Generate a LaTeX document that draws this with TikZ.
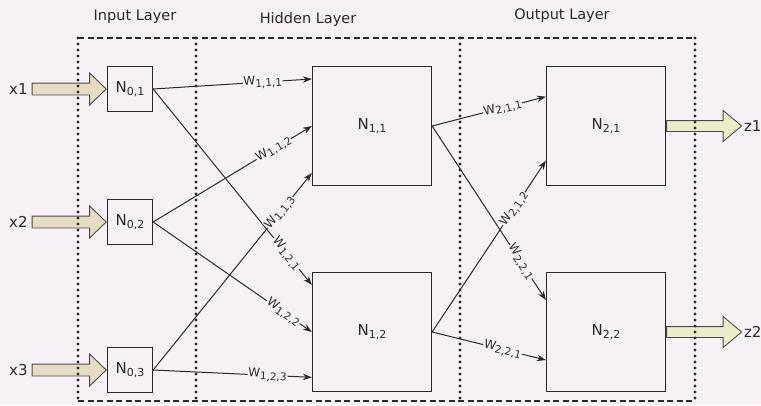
\documentclass[tikz,border=0pt]{standalone}
\usepackage{fontspec}
\setmainfont{DejaVu Sans}
\usetikzlibrary{arrows.meta,positioning,shapes.arrows}
\definecolor{paper}{HTML}{F7F1F6}
\definecolor{ink}{HTML}{2A2A2A}
\definecolor{inbeige}{HTML}{E6DCC4}
\definecolor{outlime}{HTML}{ECEDC8}
\newcommand{\wlab}[1]{{\fontsize{12}{13}\selectfont W\raisebox{-2.5pt}{\fontsize{10.5}{11}\selectfont #1}}}
\newcommand{\nlab}[1]{N\raisebox{-3.5pt}{\fontsize{11}{12}\selectfont #1}}

\begin{document}
\begin{tikzpicture}[x=1pt,y=-1pt]
\tikzset{
  smallbox/.style={draw=ink,line width=1.3pt,minimum size=45pt,inner sep=0pt,text=ink,font=\fontsize{15}{17}\selectfont},
  bigbox/.style={smallbox,minimum size=119pt},
  weighted/.style={-{Stealth[length=9pt,width=6.5pt]},draw=ink,line width=1pt},
  wtext/.style={sloped,fill=paper,inner sep=0.6pt,text=ink},
  inarrow/.style={single arrow,draw=ink!85,fill=inbeige,line width=0.9pt,minimum height=74pt,minimum width=0pt,text height=5.5pt,text depth=5.5pt,text width=0pt,single arrow head extend=10pt,single arrow tip angle=88,inner sep=0pt},
  outarrow/.style={inarrow,fill=outlime,minimum height=75pt,text height=5pt,text depth=5pt,single arrow tip angle=80},
  sidelabel/.style={text=ink,font=\fontsize{15}{17}\selectfont,inner sep=0pt},
  layertitle/.style={text=ink,font=\fontsize{14.5}{16}\selectfont},
  dotline/.style={draw=ink,line width=3.2pt,dash pattern=on 0pt off 6pt,line cap=round},
  dashline/.style={draw=ink,line width=2.8pt,dash pattern=on 6pt off 3.5pt}
}
\fill[paper] (0,0) rectangle (761,405);
\useasboundingbox (0,0) rectangle (761,405);
\node[layertitle] (t_in) at (135,17) {Input Layer};
\node[layertitle] (t_hid) at (308,19) {Hidden Layer};
\node[layertitle] (t_out) at (562,16) {Output Layer};
\node[smallbox] (n_0_1) at (130,89) {\nlab{0,1}};
\node[smallbox] (n_0_2) at (130,222) {\nlab{0,2}};
\node[smallbox] (n_0_3) at (130,370) {\nlab{0,3}};
\node[bigbox] (n_1_1) at (372,126) {\nlab{1,1}};
\node[bigbox] (n_1_2) at (372,332) {\nlab{1,2}};
\node[bigbox] (n_2_1) at (606,126) {\nlab{2,1}};
\node[bigbox] (n_2_2) at (606,332) {\nlab{2,2}};
\node[inarrow,left=0pt of n_0_1] (a_1) {};
\node[inarrow,left=0pt of n_0_2] (a_2) {};
\node[inarrow,left=0pt of n_0_3] (a_3) {};
\node[sidelabel,left=4pt of a_1] (x_1) {x1};
\node[sidelabel,left=4pt of a_2] (x_2) {x2};
\node[sidelabel,left=4pt of a_3] (x_3) {x3};
\node[outarrow,right=0pt of n_2_1] (b_1) {};
\node[outarrow,right=0pt of n_2_2] (b_2) {};
\node[sidelabel,right=1.5pt of b_1] (z_1) {z1};
\node[sidelabel,right=1.5pt of b_2] (z_2) {z2};
\draw[weighted] (n_0_1.east) -- node[wtext,pos=0.69] {\wlab{1,1,1}} (n_1_1.142);
\draw[weighted] (n_0_1.east) -- node[wtext,pos=0.84] {\wlab{1,2,1}} (n_1_2.142);
\draw[weighted] (n_0_2.east) -- node[wtext,pos=0.76] {\wlab{1,1,2}} (n_1_1.180);
\draw[weighted] (n_0_2.east) -- node[wtext,pos=0.82] {\wlab{1,2,2}} (n_1_2.180);
\draw[weighted] (n_0_3.east) -- node[wtext,pos=0.80] {\wlab{1,1,3}} (n_1_1.218);
\draw[weighted] (n_0_3.east) -- node[wtext,pos=0.72] {\wlab{1,2,3}} (n_1_2.217);
\draw[weighted] (n_1_1.east) -- node[wtext,pos=0.62] {\wlab{2,1,1}} (n_2_1.154);
\draw[weighted] (n_1_2.east) -- node[wtext,pos=0.72] {\wlab{2,1,2}} (n_2_1.210);
\draw[weighted] (n_1_1.east) -- node[wtext,pos=0.78] {\wlab{2,2,1}} (n_2_2.152);
\draw[weighted] (n_1_2.east) -- node[wtext,pos=0.62] {\wlab{2,2,1}} (n_2_2.205);
\draw[dashline] (78,38) -- (695,38);
\draw[dashline] (78,401) -- (695,401);
\foreach \fx in {78,196,460,695}
  \draw[dotline] (\fx,38) -- (\fx,401);
\end{tikzpicture}
\end{document}
